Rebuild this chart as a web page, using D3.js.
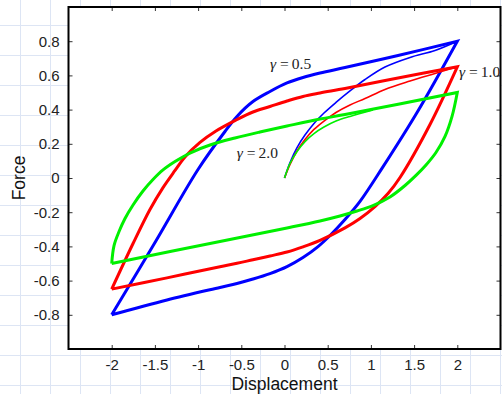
<!DOCTYPE html>
<html>
<head>
<meta charset="utf-8">
<script src="https://cdn.jsdelivr.net/npm/d3@7/dist/d3.min.js"></script>
<style>
  html, body { margin: 0; padding: 0; background: #fff; }
  svg { display: block; }
</style>
</head>
<body>
<div id="chart" style="width:502px;height:394px;"></div>
<script>
// axis ticks
var xTicks = [-2, -1.5, -1, -0.5, 0, 0.5, 1, 1.5, 2];
var yTicks = [-0.8, -0.6, -0.4, -0.2, 0, 0.2, 0.4, 0.6, 0.8];

// gamma = 0.5 (blue) : [displacement, force]
var g05Initial = [[0, 0], [0.064, 0.091], [0.145, 0.178], [0.237, 0.251], [0.341, 0.319], [0.457, 0.38], [0.596, 0.442], [0.758, 0.509], [0.932, 0.576], [1.163, 0.649], [1.453, 0.705], [1.742, 0.746], [2, 0.8]];
var g05Loading = [[-2, -0.8], [-1.499, -0.377], [-1.001, 0.05], [-0.689, 0.272], [-0.55, 0.36], [-0.365, 0.447], [-0.168, 0.506], [0.029, 0.556], [0.214, 0.588], [0.411, 0.614], [0.7, 0.646], [1.314, 0.716], [2, 0.8]];
var g05Unloading = [[2, 0.8], [1.534, 0.383], [1.128, 0.056], [0.874, -0.137], [0.7, -0.243], [0.527, -0.336], [0.388, -0.401], [0.214, -0.465], [0.029, -0.518], [-0.168, -0.559], [-0.365, -0.591], [-0.55, -0.617], [-0.747, -0.64], [-1.36, -0.713], [-2, -0.8]];

// gamma = 1.0 (red)
var g10Initial = [[0, 0], [0.064, 0.079], [0.145, 0.158], [0.237, 0.225], [0.341, 0.284], [0.457, 0.333], [0.596, 0.383], [0.758, 0.427], [0.932, 0.465], [1.163, 0.518], [1.453, 0.567], [1.742, 0.611], [2, 0.65]];
var g10Loading = [[-2, -0.65], [-1.753, -0.383], [-1.557, -0.184], [-1.406, -0.056], [-1.267, 0.044], [-1.152, 0.123], [-0.978, 0.208], [-0.793, 0.275], [-0.561, 0.339], [-0.365, 0.386], [-0.168, 0.418], [0.029, 0.45], [0.214, 0.477], [0.411, 0.497], [0.7, 0.523], [1.314, 0.585], [2, 0.65]];
var g10Unloading = [[2, 0.65], [1.684, 0.313], [1.337, 0.003], [1.198, -0.091], [1.047, -0.167], [0.874, -0.237], [0.7, -0.292], [0.411, -0.365], [0.214, -0.403], [0.029, -0.433], [-0.168, -0.456], [-0.365, -0.478], [-0.55, -0.499], [-0.747, -0.519], [-1.36, -0.584], [-2, -0.65]];

// gamma = 2.0 (green)
var g20Initial = [[0, 0], [0.064, 0.085], [0.145, 0.155], [0.237, 0.213], [0.341, 0.26], [0.457, 0.298], [0.596, 0.333], [0.758, 0.36], [1.024, 0.398]];
var g20Loading = [[-2, -0.5], [-1.973, -0.395], [-1.915, -0.313], [-1.846, -0.237], [-1.753, -0.158], [-1.638, -0.076], [-1.522, -0.009], [-1.406, 0.047], [-1.267, 0.096], [-1.094, 0.146], [-0.862, 0.193], [-0.573, 0.234], [-0.284, 0.269], [0.029, 0.304], [0.411, 0.345], [0.7, 0.371], [2, 0.5]];
var g20Unloading = [[2, 0.5], [1.939, 0.36], [1.858, 0.243], [1.753, 0.149], [1.638, 0.076], [1.522, 0.015], [1.395, -0.044], [1.221, -0.111], [1.024, -0.161], [0.839, -0.193], [0.642, -0.222], [0.411, -0.251], [0.029, -0.292], [-0.747, -0.371], [-2, -0.5]];

var gammas = ["0.5", "1.0", "2.0"];

var series = [
    {gamma: gammas[0], color: "#0000ff", initial: g05Initial, loading: g05Loading, unloading: g05Unloading, label: [-0.168, 0.639]},
    {gamma: gammas[1], color: "#ff0000", initial: g10Initial, loading: g10Loading, unloading: g10Unloading, label: [2.02, 0.592]},
    {gamma: gammas[2], color: "#00f000", initial: g20Initial, loading: g20Loading, unloading: g20Unloading, label: [-0.553, 0.118]}
];

var W = 502, H = 394;
var margin = {top: 7, right: 1.5, bottom: 45, left: 68.5};
var width = W - margin.left - margin.right;
var height = H - margin.top - margin.bottom;

var svg = d3.select("#chart")
    .append("svg")
        .attr("width", W)
        .attr("height", H);

// graph paper background
var bg = svg.append("g").attr("stroke", "#dde5f4").attr("stroke-width", 1);
bg.selectAll("line.v")
    .data(d3.range(20.5, W, 30))
    .join("line")
        .attr("class", "v")
        .attr("x1", d => d).attr("x2", d => d)
        .attr("y1", 0).attr("y2", H);
bg.selectAll("line.h")
    .data(d3.range(25.5, H, 30))
    .join("line")
        .attr("class", "h")
        .attr("x1", 0).attr("x2", W)
        .attr("y1", d => d).attr("y2", d => d);

var g = svg.append("g")
    .attr("transform", "translate(" + margin.left + "," + margin.top + ")");

g.append("rect")
    .attr("width", width)
    .attr("height", height)
    .attr("fill", "#fff");

var x = d3.scaleLinear().domain([-2.5, 2.5]).range([0, width]);
var y = d3.scaleLinear().domain([-1, 1]).range([height, 0]);

var line = d3.line()
    .x(d => x(d[0]))
    .y(d => y(d[1]))
    .curve(d3.curveCatmullRom.alpha(0.5));

g.append("clipPath").attr("id", "clip")
    .append("rect").attr("width", width).attr("height", height);

var curves = g.append("g").attr("clip-path", "url(#clip)");

series.forEach(function(s) {
    curves.append("path")
        .attr("d", line(s.initial))
        .attr("fill", "none")
        .attr("stroke", s.color)
        .attr("stroke-width", 1.6);
    // one closed loop: loading branch then unloading branch, sharp corners at +-2
    curves.append("path")
        .attr("d", line(s.loading) + line(s.unloading).replace("M", "L"))
        .attr("fill", "none")
        .attr("stroke", s.color)
        .attr("stroke-width", 3)
        .attr("stroke-linejoin", "miter");
});

// axes, ticks inward
var fmt = d => String(d);
var tickStyle = function(sel) {
    sel.select(".domain").remove();
    sel.selectAll(".tick line").attr("stroke", "#333");
    sel.selectAll(".tick text")
        .attr("fill", "#222")
        .style("font-family", "'Liberation Sans', Arial, sans-serif")
        .style("font-size", "15px");
};

g.append("g")
    .attr("transform", "translate(0," + height + ")")
    .call(d3.axisBottom(x).tickValues(xTicks).tickFormat(fmt).tickSize(-4).tickPadding(10))
    .call(tickStyle);
g.append("g")
    .call(d3.axisTop(x).tickValues(xTicks).tickSize(-4).tickFormat(""))
    .call(tickStyle);
g.append("g")
    .call(d3.axisLeft(y).tickValues(yTicks).tickFormat(fmt).tickSize(-4).tickPadding(9))
    .call(tickStyle);
g.append("g")
    .attr("transform", "translate(" + width + ",0)")
    .call(d3.axisRight(y).tickValues(yTicks).tickSize(-4).tickFormat(""))
    .call(tickStyle);

g.append("rect")
    .attr("width", width)
    .attr("height", height)
    .attr("fill", "none")
    .attr("stroke", "#000")
    .attr("stroke-width", 2);

// axis titles
svg.append("text")
    .attr("x", margin.left + x(0))
    .attr("y", 390)
    .attr("text-anchor", "middle")
    .attr("fill", "#111")
    .style("font-family", "'Liberation Sans', Arial, sans-serif")
    .style("font-size", "17.5px")
    .text("Displacement");

svg.append("text")
    .attr("transform", "translate(25," + (margin.top + y(0)) + ") rotate(-90)")
    .attr("text-anchor", "middle")
    .attr("fill", "#111")
    .style("font-family", "'Liberation Sans', Arial, sans-serif")
    .style("font-size", "17.5px")
    .text("Force");

// gamma annotations
series.forEach(function(s) {
    var t = g.append("text")
        .attr("x", x(s.label[0]))
        .attr("y", y(s.label[1]))
        .attr("fill", "#222")
        .style("font-family", "'Liberation Serif', 'Times New Roman', serif")
        .style("font-size", "15.5px");
    t.append("tspan").style("font-style", "italic").text("\u03b3");
    t.append("tspan").text(" =\u2009" + s.gamma);
});
</script>
</body>
</html>
